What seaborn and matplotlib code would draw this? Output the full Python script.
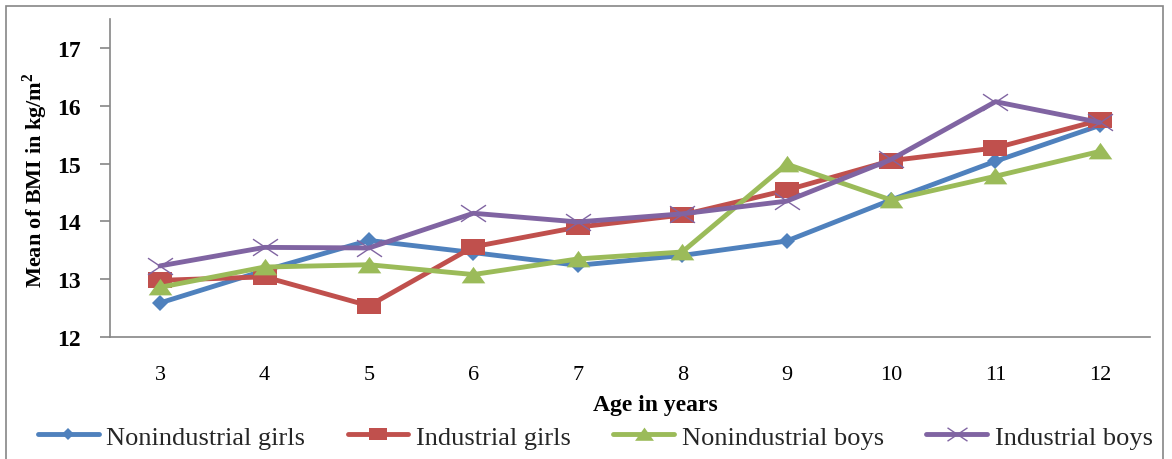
import numpy as np
import pandas as pd
import matplotlib
matplotlib.use("Agg")
import matplotlib.pyplot as plt
import matplotlib.path as mpath
from matplotlib.patches import Rectangle
import seaborn as sns

ages = [3, 4, 5, 6, 7, 8, 9, 10, 11, 12]
nonindustrial_girls = [12.59, 13.15, 13.67, 13.46, 13.24, 13.41, 13.66, 14.37, 15.04, 15.66]
industrial_girls = [12.98, 13.04, 12.54, 13.56, 13.90, 14.11, 14.54, 15.05, 15.27, 15.75]
nonindustrial_boys = [12.86, 13.21, 13.25, 13.08, 13.35, 13.47, 14.99, 14.37, 14.78, 15.21]
industrial_boys = [13.23, 13.55, 13.54, 14.14, 13.99, 14.13, 14.35, 15.07, 16.07, 15.71]
series_names = ["Nonindustrial girls", "Industrial girls", "Nonindustrial boys", "Industrial boys"]
y_ticks = [12, 13, 14, 15, 16, 17]

sns.set_theme(style="white")
plt.rcParams["font.family"] = ["Liberation Serif", "DejaVu Serif"]

df = pd.DataFrame({
    "age": ages * 4,
    "bmi": nonindustrial_girls + industrial_girls + nonindustrial_boys + industrial_boys,
    "group": np.repeat(series_names, len(ages)),
})

colors = ["#4F81BD", "#C0504D", "#9BBB59", "#8064A2"]

# wide, flat marker shapes
square = [(-1.5, -1), (1.5, -1), (1.5, 1), (-1.5, 1), (-1.5, -1)]
triangle = [(-1.5, -1), (1.5, -1), (0, 1.1), (-1.5, -1)]
cross = mpath.Path([(-1.5, -1), (1.5, 1), (-1.5, 1), (1.5, -1)],
                   [mpath.Path.MOVETO, mpath.Path.LINETO, mpath.Path.MOVETO, mpath.Path.LINETO])
styles = [
    dict(marker="D", markersize=8, markeredgewidth=0),
    dict(marker=square, markersize=17, markeredgewidth=0),
    dict(marker=triangle, markersize=17, markeredgewidth=0),
    dict(marker=cross, markersize=18, markeredgewidth=1.0),
]

fig = plt.figure(figsize=(11.72, 4.6), dpi=100)
fig.patch.set_facecolor("white")
ax = fig.add_axes([110 / 1172, 1 - 338 / 460, 1040 / 1172, 318 / 460])

for name, color, st in zip(series_names, colors, styles):
    sub = df[df["group"] == name]
    sns.lineplot(data=sub, x="age", y="bmi", color=color, linewidth=3.5,
                 markeredgecolor=color, label=name, ax=ax, **st)

ax.set_xlim(2.52, 12.48)
ax.set_ylim(12, 17.5)
ax.set_xticks(ages)
ax.set_xticklabels([str(a) for a in ages])
ax.set_yticks(y_ticks)
ax.set_yticklabels([str(t) for t in y_ticks])

for side in ["top", "right"]:
    ax.spines[side].set_visible(False)
for side in ["left", "bottom"]:
    ax.spines[side].set_color("#868686")
    ax.spines[side].set_linewidth(1.2)

ax.tick_params(axis="y", which="major", direction="out", length=7, width=1.2,
               color="#868686", left=True, pad=14, labelsize=17, labelcolor="black")
ax.tick_params(axis="x", which="major", length=0, pad=20, labelsize=16, labelcolor="black")
for lbl in ax.get_yticklabels():
    lbl.set_fontweight("semibold")

ax.set_xlabel("Age in years", fontsize=17, fontweight="bold", color="black")
ax.set_ylabel("Mean of BMI in kg/m$^\\mathregular{2}$", fontsize=16, fontweight="bold", color="black")
ax.xaxis.set_label_coords(0.524, -0.18)
ax.yaxis.set_label_coords(-0.058, 0.497)

ax.get_legend().remove()
handles, labels = ax.get_legend_handles_labels()
fig.legend(handles, labels, loc="center", bbox_to_anchor=(0.508, 0.048), ncol=4,
           frameon=False, fontsize=19, handlelength=2.3, handletextpad=0.3,
           columnspacing=1.6, markerscale=0.8)

# outer chart frame
fig.patches.append(Rectangle((6 / 1172, -0.05), 1157 / 1172, 1.05 - 7 / 460,
                             transform=fig.transFigure, fill=False,
                             edgecolor="#868686", linewidth=1.2))

fig.savefig("out.png", dpi=100, facecolor="white")
